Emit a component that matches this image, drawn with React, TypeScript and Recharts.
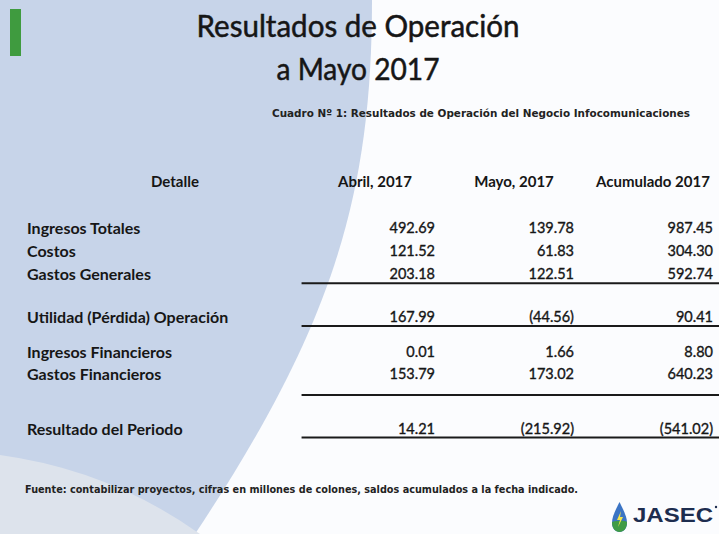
import { ScatterChart, Scatter, XAxis, YAxis, ReferenceLine } from "recharts";

const columns = ["Abril, 2017", "Mayo, 2017", "Acumulado 2017"];
const rowLabels = [
  "Ingresos Totales",
  "Costos",
  "Gastos Generales",
  "Utilidad (Pérdida) Operación",
  "Ingresos Financieros",
  "Gastos Financieros",
  "Resultado del Periodo",
];
const abril = [492.69, 121.52, 203.18, 167.99, 0.01, 153.79, 14.21];
const mayo = [139.78, 61.83, 122.51, -44.56, 1.66, 173.02, -215.92];
const acumulado = [987.45, 304.3, 592.74, 90.41, 8.8, 640.23, -541.02];

// layout: vertical slot of each row (header = 0) and of the rules
const rowSlots = [2, 3, 4, 5.9, 7.4, 8.35, 10.75];
const ruleSlots = [4.45, 6.3, 9.3, 11.15];

const fmt = (v: number) => (v < 0 ? `(${Math.abs(v).toFixed(2)})` : v.toFixed(2));

const series = [abril, mayo, acumulado].map((vals, i) =>
  vals.map((v, r) => ({ x: i + 1, y: rowSlots[r], label: fmt(v) }))
);
const headers = columns.map((c, i) => ({ x: i + 1, y: 0, label: c }));

const FONT = "Lato, 'Open Sans', sans-serif";
const INK = "#161616";

const NumberCell = (props: any) => (
  <text
    x={props.cx}
    y={props.cy}
    textAnchor="end"
    dominantBaseline="central"
    fontFamily={FONT}
    fontSize={14.5}
    fill={INK}
    stroke={INK}
    strokeWidth={0.35}
  >
    {props.payload.label}
  </text>
);

const HeaderCell = (props: any) => (
  <text
    x={props.cx - 60}
    y={props.cy}
    textAnchor="middle"
    dominantBaseline="central"
    fontFamily={FONT}
    fontWeight={700}
    fontSize={15}
    fill={INK}
  >
    {props.payload.label}
  </text>
);

const RowTick = (props: any) => {
  const { y, payload } = props;
  if (payload.value === 0) {
    return (
      <text x={175} y={y} textAnchor="middle" dominantBaseline="central" fontFamily={FONT} fontWeight={700} fontSize={15} fill={INK}>
        Detalle
      </text>
    );
  }
  const idx = rowSlots.indexOf(payload.value);
  return (
    <text x={27} y={y} textAnchor="start" dominantBaseline="central" fontFamily={FONT} fontWeight={700} fontSize={16} fill={INK}>
      {rowLabels[idx]}
    </text>
  );
};

export default function App() {
  return (
    <div style={{ position: "absolute", left: 0, top: 0, width: 719, height: 534, overflow: "hidden", background: "#fbfcfe" }}>
      <svg width={719} height={534} style={{ position: "absolute", left: 0, top: 0 }}>
        <path d="M0,0 H372 C372,200 330,330 195,534 H0 Z" fill="#c7d4e9" />
        <path d="M0,455 Q110,470 200,534 H0 Z" fill="#dde3ec" />
        <rect x={10} y={9} width={11} height={47} fill="#3f9b3f" />
        <text x={358} y={37} textAnchor="middle" fontFamily={FONT} fontSize={30} fill={INK} stroke={INK} strokeWidth={0.5} textLength={323} lengthAdjust="spacingAndGlyphs">
          Resultados de Operación
        </text>
        <text x={358} y={80} textAnchor="middle" fontFamily={FONT} fontSize={30} fill={INK} stroke={INK} strokeWidth={0.5} textLength={163} lengthAdjust="spacingAndGlyphs">
          a Mayo 2017
        </text>
        <text x={272} y={117} fontFamily="'DejaVu Sans', sans-serif" fontWeight={700} fontSize={11} fill="#222" textLength={418} lengthAdjust="spacingAndGlyphs">
          Cuadro Nº 1: Resultados de Operación del Negocio Infocomunicaciones
        </text>
        <text x={25} y={493} fontFamily="'DejaVu Sans', sans-serif" fontWeight={700} fontSize={10} fill="#222" textLength={553} lengthAdjust="spacingAndGlyphs">
          Fuente: contabilizar proyectos, cifras en millones de colones, saldos acumulados a la fecha indicado.
        </text>
      </svg>

      <div style={{ position: "absolute", left: 0, top: 0 }}>
        <ScatterChart width={719} height={534} margin={{ top: 158, right: 6, bottom: 77, left: 0 }}>
          <XAxis type="number" dataKey="x" domain={[0, 3]} hide />
          <YAxis
            type="number"
            dataKey="y"
            domain={[-1, 12]}
            reversed
            width={296}
            ticks={[0, ...rowSlots]}
            interval={0}
            axisLine={false}
            tickLine={false}
            tick={<RowTick />}
          />
          {ruleSlots.map((s) => (
            <ReferenceLine
              key={s}
              segment={[{ x: 0.04, y: s }, { x: 3.05, y: s }]}
              stroke="#1a1a1a"
              strokeWidth={2}
              ifOverflow="visible"
            />
          ))}
          <Scatter data={headers} shape={<HeaderCell />} isAnimationActive={false} />
          {series.map((d, i) => (
            <Scatter key={i} data={d} shape={<NumberCell />} isAnimationActive={false} />
          ))}
        </ScatterChart>
      </div>

      <svg width={719} height={534} style={{ position: "absolute", left: 0, top: 0, pointerEvents: "none" }}>
        <g transform="translate(612,502)">
          <path d="M7.5,0 C3,9 0,15 0,21 C0,26.5 3.4,30 7.5,30 C11.6,30 15,26.5 15,21 C15,15 12,9 7.5,0 Z" fill="#3b74c4" />
          <path d="M0,20 C3,19 12,18 15,20 C15,26.5 11.6,30 7.5,30 C3.4,30 0,26.5 0,20 Z" fill="#3f9b46" />
          <path d="M9,9 L5,18 L8,18 L6,25 L11,15 L8,15 Z" fill="#f2e64a" />
        </g>
        <text x={633} y={522} fontFamily="'Liberation Sans', Arial, sans-serif" fontWeight={700} fontSize={21} fill="#1d2d4f" textLength={80} lengthAdjust="spacingAndGlyphs">
          JASEC
        </text>
        <circle cx={716} cy={507} r={1.2} fill="#1d2d4f" />
      </svg>
    </div>
  );
}
